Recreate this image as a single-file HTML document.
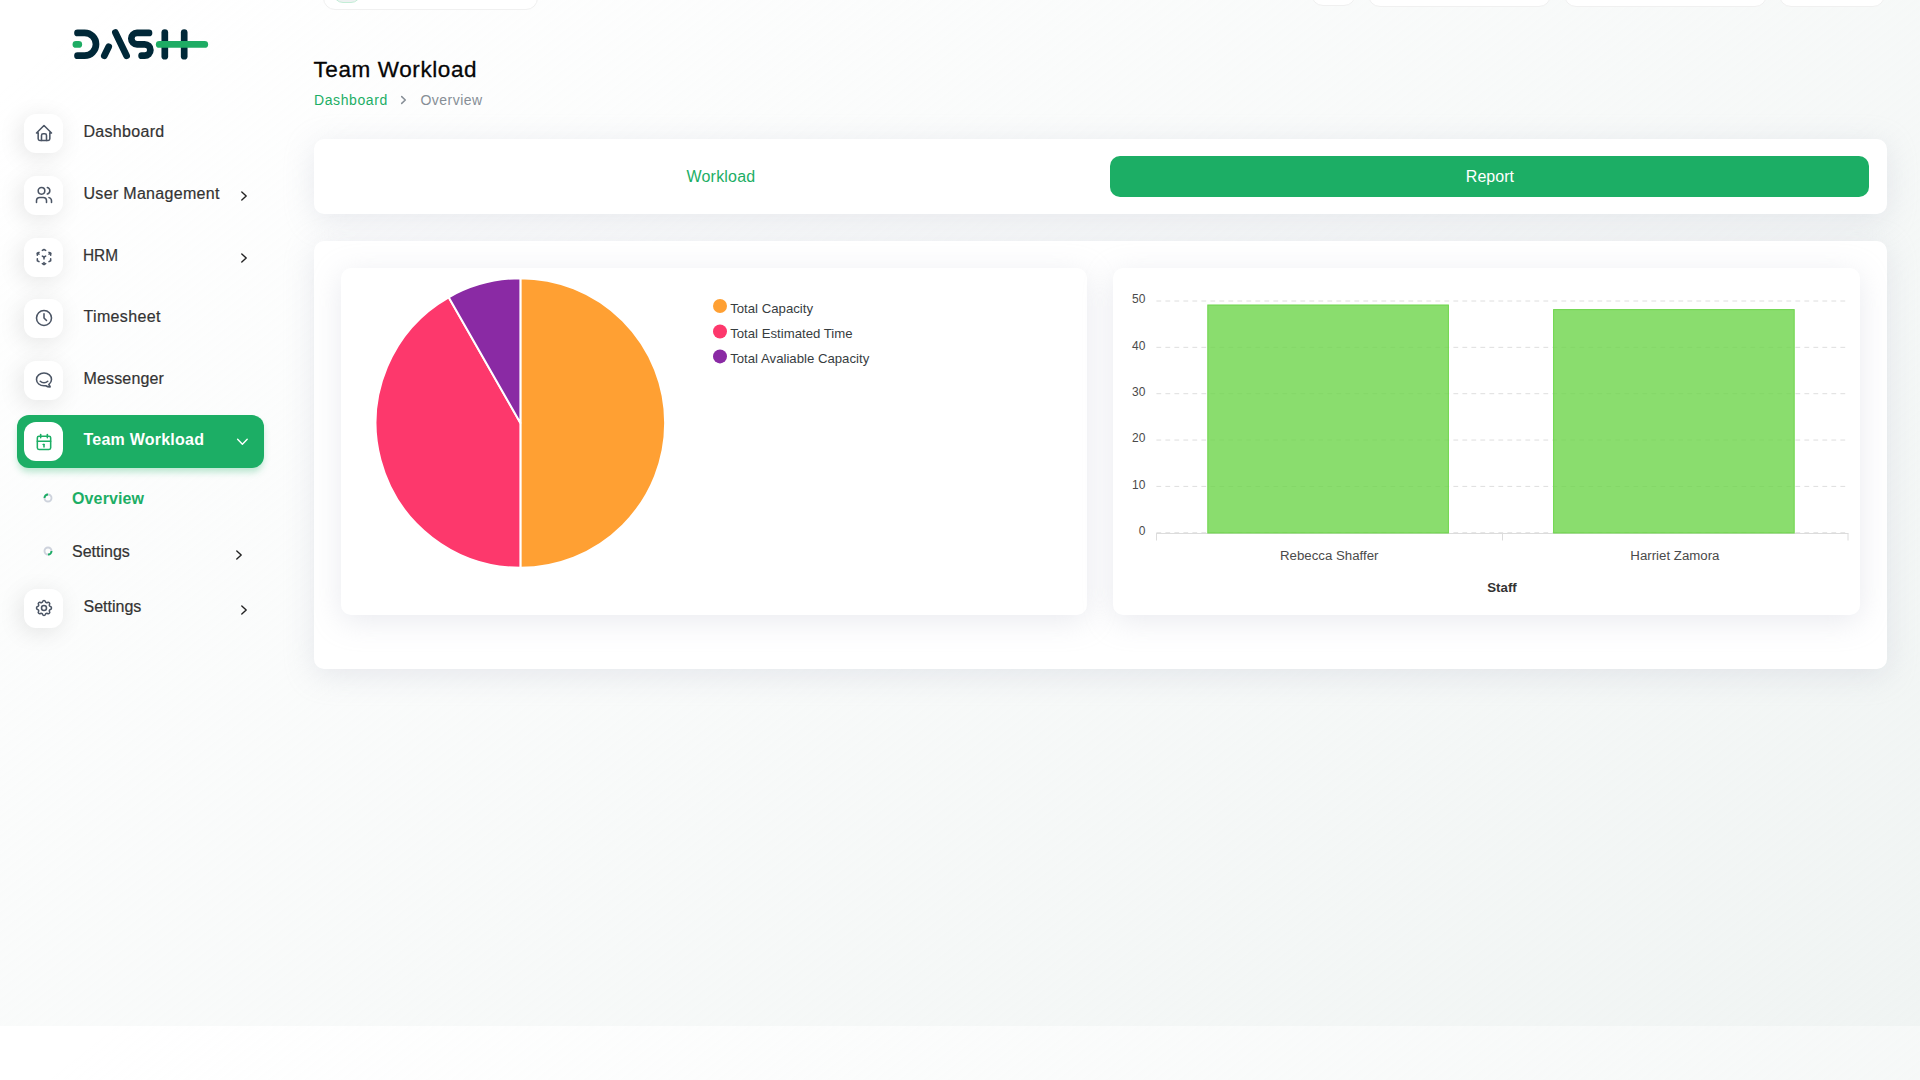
<!DOCTYPE html>
<html lang="en">
<head>
<meta charset="utf-8">
<title>Team Workload</title>
<style>
*{box-sizing:border-box;margin:0;padding:0}
html{width:1920px;height:1026px;overflow:hidden}
body{width:1920px;height:1026px;position:relative;overflow:visible;
  font-family:"Liberation Sans",sans-serif;color:#293240;
  background:linear-gradient(141.55deg,rgba(240,244,243,0) 3.46%,#f0f4f3 99.86%),#ffffff;}
.abs{position:absolute}
/* ---------- top cut-off header pills ---------- */
.pill{position:absolute;top:-40px;background:#fff;border-radius:12px;border:1px solid #f0f0f0}
/* ---------- sidebar ---------- */
.mi{position:absolute;left:24.2px;width:38.7px;height:38.8px;background:#fff;border-radius:12px;
  box-shadow:-3px 4px 23px rgba(0,0,0,.1)}
.mi svg{position:absolute;left:9.7px;top:9.3px;width:20px;height:20px;fill:none;stroke:#4b5565;stroke-width:1.85;stroke-linecap:round;stroke-linejoin:round}
.mt{position:absolute;left:83.5px;font-size:16px;line-height:20px;color:#333;white-space:nowrap;letter-spacing:.34px;-webkit-text-stroke:.2px #333}
.chev{position:absolute;width:8px;height:12px;fill:none;stroke:#222;stroke-width:1.4;stroke-linecap:round;stroke-linejoin:round}
.active-bg{position:absolute;left:17px;top:415px;width:247px;height:52.5px;border-radius:12px;background:#1cae65;
  box-shadow:0 5px 7px -1px rgba(28,174,101,.3)}
.dot{position:absolute;left:43.4px;width:10px;height:10px}
/* ---------- main ---------- */
.card{position:absolute;background:#fff;border-radius:10px;box-shadow:0 6px 30px rgba(182,186,203,.3)}
.title{position:absolute;left:313.5px;top:55px;font-size:22.5px;line-height:30px;color:#060606;white-space:nowrap;letter-spacing:.6px;-webkit-text-stroke:.3px #060606}
.bc{position:absolute;top:90px;font-size:14px;line-height:20px;white-space:nowrap;letter-spacing:.72px}
.tab{position:absolute;font-size:16px;line-height:20px;white-space:nowrap;letter-spacing:.2px}
.btn{position:absolute;left:1110px;top:156px;width:759px;height:41px;border-radius:10px;background:#1cae65}
.foot{position:absolute;left:313.4px;top:1043px;font-size:16px;line-height:20px;color:#6c757d;white-space:nowrap;letter-spacing:0}
svg text{font-family:"Liberation Sans",sans-serif}
</style>
</head>
<body>

<!-- cut-off header widgets at very top -->
<div class="pill" style="left:323px;width:215px;height:50px"></div>
<div class="abs" style="left:333px;top:-25px;width:28px;height:28px;border-radius:10px;background:#edf1f1;border:1px solid #c3edd6"></div>
<div class="pill" style="left:1311px;width:44.5px;height:46.4px"></div>
<div class="pill" style="left:1368px;width:183px;height:47.2px"></div>
<div class="pill" style="left:1564px;width:203.2px;height:47.2px"></div>
<div class="pill" style="left:1779px;width:106px;height:47.2px"></div>

<!-- SIDEBAR_START -->
<!-- logo -->
<svg class="abs" style="left:60px;top:20px" width="160" height="50" viewBox="60 20 160 50" fill="none" stroke-linecap="round" stroke-linejoin="round" role="img" aria-label="DASH">
  <title>DASH</title>
  <g stroke="#002838" stroke-width="6.7">
    <path d="M77.5 32.9 H84.6 A11.4 11.4 0 0 1 84.6 55.7 H77.5"/>
    <path d="M115.4 32.6 L126.6 55.8"/>
    <path d="M108.7 46.8 L104.3 55.8"/>
    <path d="M149 32.9 H137 A5.7 5.7 0 0 0 137 44.3 H144.7 A5.7 5.7 0 0 1 144.7 55.7 H141.6"/>
    <path d="M164.8 32.6 V56.2"/>
    <path d="M184.2 32.6 V56.2"/>
  </g>
  <g stroke="#1eac64" stroke-width="6.9">
    <path d="M76 44.4 H78.7"/>
    <path d="M159.3 44.4 H204.7"/>
  </g>
</svg>

<!-- Dashboard -->
<div class="mi" style="top:114px"><svg viewBox="0 0 24 24"><path d="M5 12H3l9-9 9 9h-2"/><path d="M5 12v7a2 2 0 0 0 2 2h10a2 2 0 0 0 2-2v-7"/><path d="M9 21v-6a2 2 0 0 1 2-2h2a2 2 0 0 1 2 2v6"/></svg></div>
<div class="mt" style="top:122px;letter-spacing:.3px">Dashboard</div>

<!-- User Management -->
<div class="mi" style="top:175.9px"><svg viewBox="0 0 24 24"><circle cx="9" cy="7" r="4"/><path d="M3 21v-2a4 4 0 0 1 4-4h4a4 4 0 0 1 4 4v2"/><path d="M16 3.13a4 4 0 0 1 0 7.75"/><path d="M21 21v-2a4 4 0 0 0-3-3.85"/></svg></div>
<div class="mt" style="top:184px;letter-spacing:.31px">User Management</div>
<svg class="chev" style="left:240px;top:190px" viewBox="0 0 8 12"><path d="M1.8 2 L6.2 6 L1.8 10"/></svg>

<!-- HRM -->
<div class="mi" style="top:238px"><svg viewBox="0 0 24 24"><path d="M6 17.6l-2-1.1V14"/><path d="M4 10V7.5l2-1.1"/><path d="M10 4.1L12 3l2 1.1"/><path d="M18 6.4l2 1.1V10"/><path d="M20 14v2.5l-2 1.12"/><path d="M14 19.9L12 21l-2-1.1"/><path d="M12 12l2-1.1"/><path d="M18 8.6l2-1.1"/><path d="M12 12v2.5"/><path d="M12 18.5V21"/><path d="M12 12l-2-1.12"/><path d="M6 8.6L4 7.5"/></svg></div>
<div class="mt" style="left:83.4px;top:246px;letter-spacing:0;transform:scaleX(.962);transform-origin:0 50%">HRM</div>
<svg class="chev" style="left:240px;top:252px" viewBox="0 0 8 12"><path d="M1.8 2 L6.2 6 L1.8 10"/></svg>

<!-- Timesheet -->
<div class="mi" style="top:298.9px"><svg viewBox="0 0 24 24"><circle cx="12" cy="12" r="9"/><path d="M12 7v5l3 3"/></svg></div>
<div class="mt" style="top:307px;letter-spacing:.34px">Timesheet</div>

<!-- Messenger -->
<div class="mi" style="top:360.8px"><svg viewBox="0 0 24 24"><path d="M17.802 17.292s.077-.055.2-.149c1.843-1.425 3-3.49 3-5.789 0-4.286-4.03-7.764-9-7.764s-9 3.478-9 7.764c0 4.288 4.03 7.646 9 7.646.424 0 1.12-.028 2.088-.084 1.262.82 3.104 1.493 4.716 1.493.499 0 .734-.41.414-.828-.486-.596-1.156-1.551-1.416-2.29z"/><path d="M7.5 13.5c2.5 2.5 6.5 2.5 9 0"/></svg></div>
<div class="mt" style="top:369px;letter-spacing:.16px">Messenger</div>

<!-- Team Workload (active) -->
<div class="active-bg"></div>
<div class="mi" style="top:421.8px;box-shadow:none"><svg viewBox="0 0 24 24" style="stroke:#1cae65;top:10.3px"><rect x="4" y="5" width="16" height="16" rx="2"/><path d="M16 3v4"/><path d="M8 3v4"/><path d="M4 11h16"/><path d="M11 15h1"/><path d="M12 15v3"/></svg></div>
<div class="mt" style="top:430px;color:#fff;font-weight:bold;-webkit-text-stroke:0;letter-spacing:.23px">Team Workload</div>
<svg class="chev" style="left:236px;top:437px;width:13px;height:9px;stroke:#fff" viewBox="0 0 13 9"><path d="M1.6 2.3 L6.4 7.3 L11.2 2.3"/></svg>

<!-- submenu -->
<svg class="dot" style="top:493.1px" viewBox="0 0 10 10" fill="none" stroke-width="1.9"><circle cx="5" cy="5" r="3.5" stroke="#cdd2dc"/><path d="M1.5 5 A3.5 3.5 0 0 1 5 1.5" stroke="#1cae65"/></svg>
<div class="mt" style="left:72px;top:489px;color:#1cae65;font-weight:bold;-webkit-text-stroke:0;letter-spacing:.13px">Overview</div>
<svg class="dot" style="top:545.6px" viewBox="0 0 10 10" fill="none" stroke-width="1.9"><circle cx="5" cy="5" r="3.5" stroke="#cdd2dc"/><path d="M8.5 5 A3.5 3.5 0 0 1 5 8.5" stroke="#1cae65"/></svg>
<div class="mt" style="left:72px;top:542px;letter-spacing:0">Settings</div>
<svg class="chev" style="left:235px;top:549px" viewBox="0 0 8 12"><path d="M1.8 2 L6.2 6 L1.8 10"/></svg>

<!-- Settings -->
<div class="mi" style="top:589.1px"><svg viewBox="0 0 24 24"><path d="M10.325 4.317c.426-1.756 2.924-1.756 3.35 0a1.724 1.724 0 0 0 2.573 1.066c1.543-.94 3.31.826 2.37 2.37a1.724 1.724 0 0 0 1.065 2.572c1.756.426 1.756 2.924 0 3.35a1.724 1.724 0 0 0-1.066 2.573c.94 1.543-.826 3.31-2.37 2.37a1.724 1.724 0 0 0-2.572 1.065c-.426 1.756-2.924 1.756-3.35 0a1.724 1.724 0 0 0-2.573-1.066c-1.543.94-3.31-.826-2.37-2.37a1.724 1.724 0 0 0-1.065-2.572c-1.756-.426-1.756-2.924 0-3.35a1.724 1.724 0 0 0 1.066-2.573c-.94-1.543.826-3.31 2.37-2.37 1 .608 2.296.07 2.572-1.065z"/><circle cx="12" cy="12" r="3"/></svg></div>
<div class="mt" style="top:597px;letter-spacing:0">Settings</div>
<svg class="chev" style="left:240px;top:604px" viewBox="0 0 8 12"><path d="M1.8 2 L6.2 6 L1.8 10"/></svg>
<!-- SIDEBAR_END -->

<!-- MAIN_START -->
<div class="title">Team Workload</div>
<div class="bc" style="left:314px;color:#1cae65;letter-spacing:.6px">Dashboard</div>
<svg class="abs" style="left:399px;top:94px" width="10" height="12" viewBox="0 0 10 12" fill="none" stroke="#868e96" stroke-width="1.5" stroke-linecap="round" stroke-linejoin="round"><path d="M2.7 2.6 L6.3 6 L2.7 9.4"/></svg>
<div class="bc" style="left:420.5px;color:#868e96;letter-spacing:.47px">Overview</div>

<div class="card" style="left:314px;top:139px;width:1573px;height:75px"></div>
<div class="tab" style="left:686.5px;top:167px;color:#1cae65">Workload</div>
<div class="btn"></div>
<div class="tab" style="left:1465.8px;top:167px;color:#fff;letter-spacing:.05px">Report</div>

<div class="card" style="left:314px;top:241px;width:1573px;height:428px"></div>
<div class="card" style="left:341px;top:268px;width:746px;height:346.6px"></div>
<div class="card" style="left:1113px;top:268px;width:747px;height:346.6px"></div>
<!-- PIE -->
<svg class="abs" style="left:341px;top:268px" width="746" height="346" viewBox="341 268 746 346">
<g stroke="#fff" stroke-width="2" stroke-linejoin="round">
<path d="M520.4 423.0 L520.40 278.25 A144.75 144.75 0 0 1 520.40 567.75 Z" fill="#ffa033"/>
<path d="M520.4 423.0 L520.40 567.75 A144.75 144.75 0 0 1 448.68 297.27 Z" fill="#fd386c"/>
<path d="M520.4 423.0 L448.68 297.27 A144.75 144.75 0 0 1 520.40 278.25 Z" fill="#8a2aa4"/>
</g>
<circle cx="720" cy="306" r="7" fill="#ffa033"/><text x="730.2" y="312.9" font-size="13.2" fill="#373d3f">Total Capacity</text>
<circle cx="720" cy="331.5" r="7" fill="#fd386c"/><text x="730.2" y="338.0" font-size="13.2" fill="#373d3f">Total Estimated Time</text>
<circle cx="720" cy="356.4" r="7" fill="#8a2aa4"/><text x="730.2" y="363.1" font-size="13.2" fill="#373d3f">Total Avaliable Capacity</text>
</svg>

<!-- BAR -->
<svg class="abs" style="left:1113px;top:268px" width="747" height="346" viewBox="1113 268 747 346">
<g stroke="#dedede" stroke-width="1" stroke-dasharray="4.8 4.2" fill="none">
<path d="M1156.4 532.75 H1848"/><path d="M1156.4 486.40 H1848"/><path d="M1156.4 440.05 H1848"/><path d="M1156.4 393.70 H1848"/><path d="M1156.4 347.35 H1848"/><path d="M1156.4 301.00 H1848"/>
</g>
<g font-size="12" fill="#4a4a4a" text-anchor="end">
<text x="1145.4" y="534.9">0</text><text x="1145.4" y="488.5">10</text><text x="1145.4" y="442.2">20</text><text x="1145.4" y="395.8">30</text><text x="1145.4" y="349.5">40</text><text x="1145.4" y="303.1">50</text>
</g>
<g stroke="#dcdcdc" stroke-width="1" fill="none"><path d="M1156 533.5 H1848.5"/><path d="M1156.5 533.5 V540.5"/><path d="M1502.5 533.5 V540.5"/><path d="M1848 533.5 V540.5"/></g>
<g fill="rgba(109,212,74,.8)" stroke="#6dd54b" stroke-width="1"><rect x="1207.8" y="305" width="240.6" height="228"/><rect x="1553.6" y="309.6" width="240.6" height="223.4"/></g>
<g font-size="13.25" fill="#4a4a4a" text-anchor="middle"><text x="1329.2" y="560.4">Rebecca Shaffer</text><text x="1674.9" y="560.4">Harriet Zamora</text></g>
<text x="1502" y="591.8" font-size="13.25" font-weight="bold" fill="#333" text-anchor="middle">Staff</text>
</svg>

<!-- MAIN_END -->

<div class="foot">Copyright © WorkDo Dash 2023</div>
</body>
</html>
